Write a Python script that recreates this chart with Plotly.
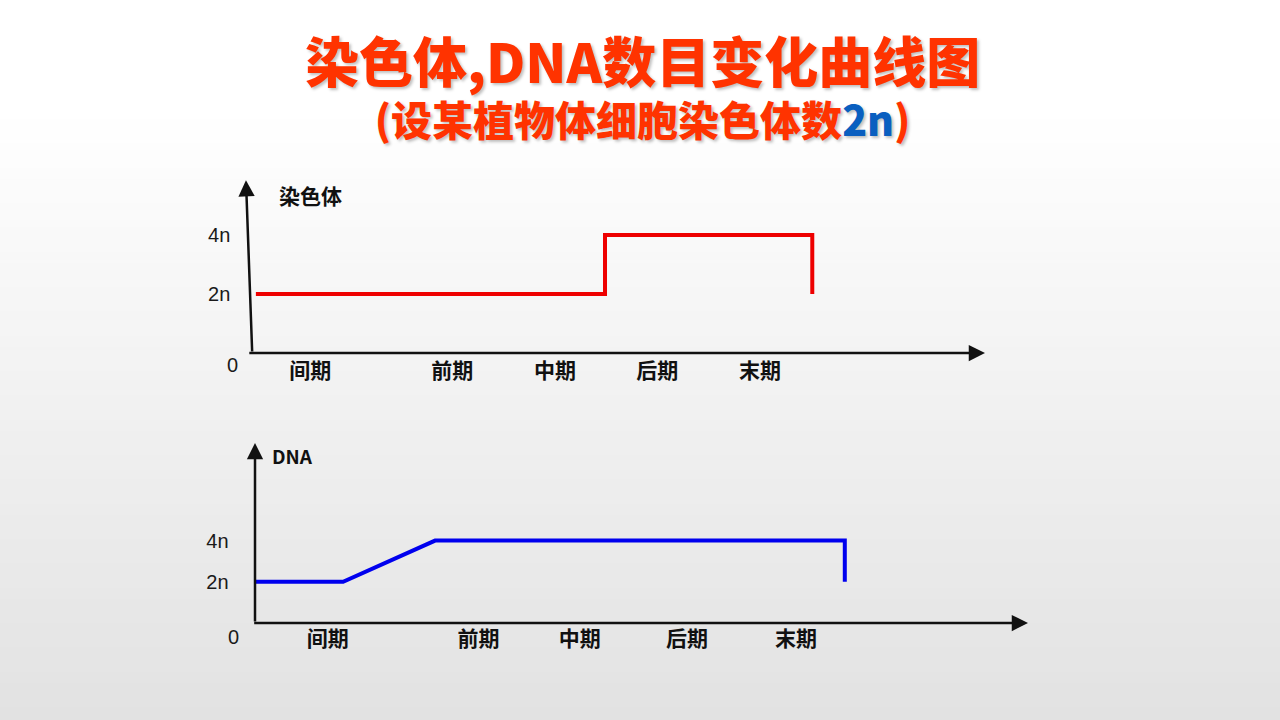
import plotly.graph_objects as go

W, H = 1280, 720

# ---------------- data ----------------
phase_labels = ["间期", "前期", "中期", "后期", "末期"]
chrom_phase_pos = [0.82, 2.75, 4.15, 5.54, 6.94]
chrom_x = [0.08, 4.83, 4.83, 7.65, 7.65]
chrom_y = [2, 2, 4, 4, 2]

dna_phase_pos = [0.94, 2.89, 4.20, 5.59, 7.00]
dna_x = [0.01, 1.14, 2.33, 7.63, 7.63]
dna_y = [2, 2, 4, 4, 2]

y_tickvals = [2, 4]
y_ticktext = ["2n", "4n"]

title_line1 = "染色体,DNA数目变化曲线图"
title_line2_a = "(设某植物体细胞染色体数"
title_line2_b = "2n"
title_line2_c = ")"

# ---------------- layout helpers ----------------
def fx(px):
    return px / W


def fy(py):
    return 1 - py / H


# top panel geometry (origin pixel, px per unit)
T_OX, T_OY, T_KX, T_KY = 250, 353, 73.5, 29.5
T_XR = [-0.2, 10.2]
T_YR = [-0.1, 6.0]
# bottom panel
B_OX, B_OY, B_KX, B_KY = 255, 623, 77.3, 20.6
B_XR = [-0.2, 10.2]
B_YR = [-0.05, 9.0]


def xdom(ox, k, r):
    return [fx(ox + r[0] * k), fx(ox + r[1] * k)]


def ydom(oy, k, r):
    return [fy(oy - r[0] * k), fy(oy - r[1] * k)]


fig = go.Figure()

fig.add_trace(go.Scatter(x=chrom_x, y=chrom_y, mode="lines",
                         line=dict(color="#ee0000", width=4),
                         xaxis="x", yaxis="y", hoverinfo="skip", showlegend=False))
fig.add_trace(go.Scatter(x=dna_x, y=dna_y, mode="lines",
                         line=dict(color="#0000ee", width=4, shape="linear"),
                         xaxis="x2", yaxis="y2", hoverinfo="skip", showlegend=False))

cjk = "Noto Sans CJK SC"
latin = "Liberation Sans, Arial, sans-serif"

common_x = dict(showgrid=False, zeroline=False, showline=False, ticks="",
                ticktext=phase_labels, fixedrange=True,
                tickfont=dict(family=cjk, size=21, color="#111111", weight="bold"))
common_y = dict(showgrid=False, zeroline=False, showline=False, ticks="",
                tickvals=y_tickvals, ticktext=y_ticktext, fixedrange=True,
                tickfont=dict(family=latin, size=20, color="#1a1a1a"))

fig.update_layout(
    width=W, height=H,
    margin=dict(l=0, r=0, t=0, b=0),
    paper_bgcolor="#ffffff",
    plot_bgcolor="rgba(0,0,0,0)",
    xaxis=dict(common_x, domain=xdom(T_OX, T_KX, T_XR), range=T_XR,
               tickvals=chrom_phase_pos, anchor="y", ticklabelstandoff=0),
    yaxis=dict(common_y, domain=ydom(T_OY, T_KY, T_YR), range=T_YR,
               anchor="x", ticklabelstandoff=4),
    xaxis2=dict(common_x, domain=xdom(B_OX, B_KX, B_XR), range=B_XR,
                tickvals=dna_phase_pos, anchor="y2", ticklabelstandoff=0),
    yaxis2=dict(common_y, domain=ydom(B_OY, B_KY, B_YR), range=B_YR,
                anchor="x2", ticklabelstandoff=10),
)

# background gradient
shapes = []
n = 60
for i in range(n):
    y0 = i * H / n
    y1 = (i + 1) * H / n
    mid = (y0 + y1) / 2
    t = max(0.0, (mid - 110) / (H - 110))
    v = int(round(255 - 29 * t))
    shapes.append(dict(type="rect", xref="paper", yref="paper",
                       x0=0, x1=1, y0=fy(y1), y1=fy(y0) + 0.001,
                       fillcolor=f"rgb({v},{v},{v})", line=dict(width=0),
                       layer="below"))
fig.update_layout(shapes=shapes)

ann = []


def arrow(xr, yr, x, y, ax, ay):
    return dict(xref=xr, yref=yr, axref=xr, ayref=yr, x=x, y=y, ax=ax, ay=ay,
                text="", showarrow=True, arrowhead=2, arrowsize=1.3,
                arrowwidth=2.5, arrowcolor="#111111", standoff=0, startstandoff=0)


ann.append(arrow("x", "y", 10.0, 0, -0.03, 0))
ann.append(arrow("x", "y", -0.055, 5.86, 0.03, 0))
ann.append(arrow("x2", "y2", 10.0, 0, -0.03, 0))
ann.append(arrow("x2", "y2", 0, 8.74, 0, 0))


def label(px, py, text, font, **kw):
    d = dict(xref="paper", yref="paper", x=fx(px), y=fy(py), text=text,
             showarrow=False, xanchor="center", yanchor="middle", font=font)
    d.update(kw)
    return d


ann.append(label(310, 195, "染色体", dict(family=cjk, size=21, color="#111111", weight="bold")))
ann.append(label(292, 455, "DNA", dict(family=cjk, size=19, color="#111111", weight="bold")))
ann.append(label(232, 365, "0", dict(family=latin, size=20, color="#1a1a1a")))
ann.append(label(233, 637, "0", dict(family=latin, size=20, color="#1a1a1a")))

title_text = (f'<span style="font-size:54px">{title_line1}</span><br>'
              f'{title_line2_a}<span style="color:#0a5fc0">{title_line2_b}</span>{title_line2_c}')
ann.append(label(642, 84, title_text,
                 dict(family=cjk, size=41, color="#ff3300", weight=900,
                      shadow="2px 2px 3px rgba(0,0,0,0.25)"), align="center"))

fig.update_layout(annotations=ann)

fig.write_html("out.html", config=dict(displayModeBar=False, staticPlot=True),
               post_script="document.body.style.margin='0';document.body.style.overflow='hidden';")
